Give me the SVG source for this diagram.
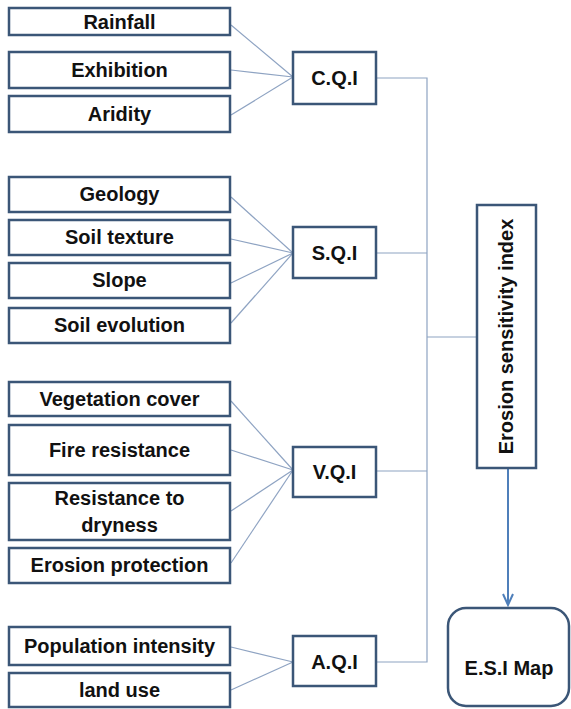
<svg xmlns="http://www.w3.org/2000/svg" width="571" height="709" viewBox="0 0 571 709">
<style>
.box{fill:#fff;stroke:#3b5677;stroke-width:2.5}
.t{font-family:"Liberation Sans",Arial,sans-serif;font-weight:bold;font-size:20px;fill:#111;text-anchor:middle}
.c{stroke:#8ea3c2;stroke-width:1.2;fill:none}
.arr{stroke:#4f7fba;stroke-width:2;fill:none}
</style>
<defs>
<marker id="ah" markerWidth="14" markerHeight="12" refX="12" refY="6" orient="auto" markerUnits="userSpaceOnUse">
<path d="M1,1 L12,6 L1,11" fill="none" stroke="#4f7fba" stroke-width="2"/>
</marker>
</defs>
<rect width="571" height="709" fill="#fff"/>
<g id="connectors">
<line class="c" x1="231" y1="25" x2="293" y2="77"/>
<line class="c" x1="231" y1="70" x2="293" y2="77"/>
<line class="c" x1="231" y1="115" x2="293" y2="77"/>
<line class="c" x1="231" y1="197" x2="293" y2="253"/>
<line class="c" x1="231" y1="239" x2="293" y2="253"/>
<line class="c" x1="231" y1="283" x2="293" y2="253"/>
<line class="c" x1="231" y1="323" x2="293" y2="253"/>
<line class="c" x1="231" y1="401" x2="293" y2="470"/>
<line class="c" x1="231" y1="450" x2="293" y2="470"/>
<line class="c" x1="231" y1="511" x2="293" y2="470"/>
<line class="c" x1="231" y1="563" x2="293" y2="470"/>
<line class="c" x1="231" y1="647" x2="293" y2="662"/>
<line class="c" x1="231" y1="690" x2="293" y2="662"/>
<polyline class="c" points="376,78 427,78 427,662 376,662"/>
<line class="c" x1="376" y1="253" x2="427" y2="253"/>
<line class="c" x1="376" y1="471" x2="427" y2="471"/>
<line class="c" x1="427" y1="337" x2="477" y2="337"/>
<line class="arr" x1="508" y1="469" x2="508" y2="605" marker-end="url(#ah)"/>
</g>
<g id="rainfall"><rect class="box" x="9" y="8" width="221" height="27"/><text class="t" x="119.5" y="29">Rainfall</text></g>
<g id="exhibition"><rect class="box" x="9" y="52" width="221" height="36"/><text class="t" x="119.5" y="77">Exhibition</text></g>
<g id="aridity"><rect class="box" x="9" y="96" width="221" height="36"/><text class="t" x="119.5" y="121">Aridity</text></g>
<g id="cqi"><rect class="box" x="293" y="52" width="83" height="52"/><text class="t" x="334.5" y="85">C.Q.I</text></g>
<g id="geology"><rect class="box" x="9" y="177" width="221" height="35"/><text class="t" x="119.5" y="201">Geology</text></g>
<g id="soiltexture"><rect class="box" x="9" y="220" width="221" height="35"/><text class="t" x="119.5" y="244">Soil texture</text></g>
<g id="slope"><rect class="box" x="9" y="263" width="221" height="35"/><text class="t" x="119.5" y="287">Slope</text></g>
<g id="soilevolution"><rect class="box" x="9" y="308" width="221" height="35"/><text class="t" x="119.5" y="332">Soil evolution</text></g>
<g id="sqi"><rect class="box" x="293" y="227" width="83" height="51"/><text class="t" x="334.5" y="260">S.Q.I</text></g>
<g id="vegetation"><rect class="box" x="9" y="382" width="221" height="34"/><text class="t" x="119.5" y="406">Vegetation cover</text></g>
<g id="fire"><rect class="box" x="9" y="425" width="221" height="50"/><text class="t" x="119.5" y="457">Fire resistance</text></g>
<g id="dryness"><rect class="box" x="9" y="483" width="221" height="57"/><text class="t" x="119.5" y="505">Resistance to</text><text class="t" x="119.5" y="532">dryness</text></g>
<g id="erosionprot"><rect class="box" x="9" y="548" width="221" height="35"/><text class="t" x="119.5" y="572">Erosion protection</text></g>
<g id="vqi"><rect class="box" x="293" y="447" width="83" height="50"/><text class="t" x="334.5" y="479">V.Q.I</text></g>
<g id="population"><rect class="box" x="9" y="627" width="221" height="38"/><text class="t" x="119.5" y="653">Population intensity</text></g>
<g id="landuse"><rect class="box" x="9" y="673" width="221" height="34"/><text class="t" x="119.5" y="697">land use</text></g>
<g id="aqi"><rect class="box" x="293" y="636" width="83" height="50"/><text class="t" x="334.5" y="669">A.Q.I</text></g>
<g id="esi"><rect class="box" x="477" y="205" width="59" height="263"/><text class="t" transform="translate(513,336.5) rotate(-90)" x="0" y="0">Erosion sensitivity index</text></g>
<g id="esimap"><rect class="box" x="448" y="608" width="121" height="98" rx="18"/><text class="t" x="509" y="675">E.S.I Map</text></g>
</svg>
